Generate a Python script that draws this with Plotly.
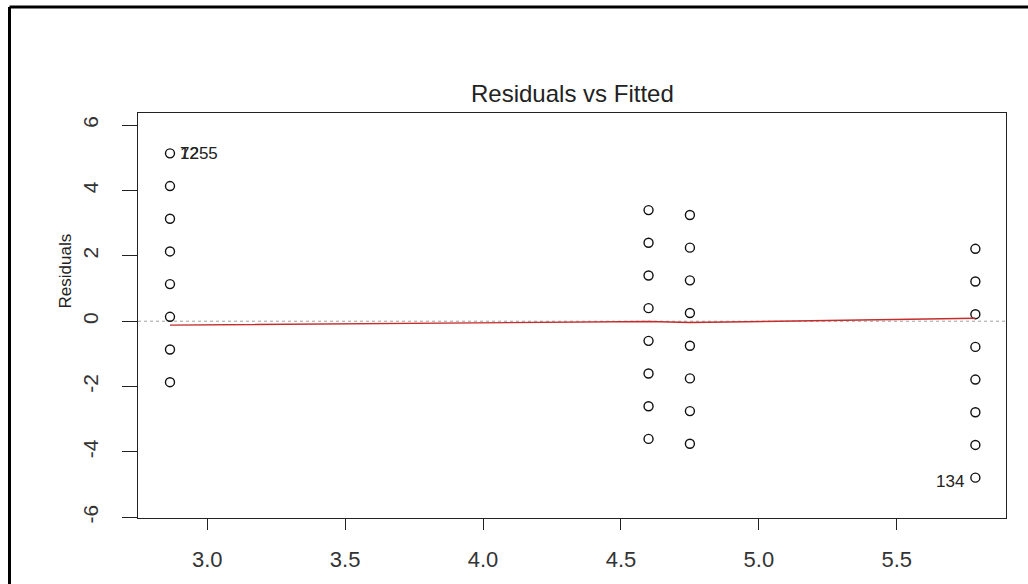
import plotly.graph_objects as go

# ---- data ----
fitted_groups = [2.865, 4.600, 4.750, 5.785]
responses = [8, 7, 6, 5, 4, 3, 2, 1]
residuals_g1 = [5.135, 4.135, 3.135, 2.135, 1.135, 0.135, -0.865, -1.865]
residuals_g2 = [3.40, 2.40, 1.40, 0.40, -0.60, -1.60, -2.60, -3.60]
residuals_g3 = [3.25, 2.25, 1.25, 0.25, -0.75, -1.75, -2.75, -3.75]
residuals_g4 = [2.215, 1.215, 0.215, -0.785, -1.785, -2.785, -3.785, -4.785]
smooth_x = [2.865, 4.600, 4.750, 5.785]
smooth_y = [-0.12, -0.01, -0.04, 0.09]
label_points = [(2.865, 5.135, "72"), (2.865, 5.135, "1255"), (5.785, -4.785, "134")]
x_ticks = [3.0, 3.5, 4.0, 4.5, 5.0, 5.5]
y_ticks = [-6, -4, -2, 0, 2, 4, 6]
title_text = "Residuals vs Fitted"
y_title = "Residuals"

FONT = "Liberation Sans, Arial, sans-serif"

xs, ys = [], []
for fx, grp in zip(fitted_groups, [residuals_g1, residuals_g2, residuals_g3, residuals_g4]):
    xs += [fx] * len(grp)
    ys += grp

fig = go.Figure()
fig.add_trace(go.Scatter(
    x=xs, y=ys, mode="markers",
    marker=dict(symbol="circle-open", size=9, color="#111111", line=dict(width=1.4, color="#111111")),
    showlegend=False, hoverinfo="x+y"))
fig.add_trace(go.Scatter(
    x=smooth_x, y=smooth_y, mode="lines",
    line=dict(color="#c62c2c", width=1.4), showlegend=False))

# zero reference line (dotted grey)
fig.add_shape(type="line", xref="paper", yref="y", x0=0, x1=1, y0=0, y1=0,
              line=dict(color="#a0a0a0", width=1, dash="dot"), layer="below")

# point labels
for px, py, t in label_points:
    if py > 0:
        fig.add_annotation(x=px, y=py, text=t, showarrow=False, xanchor="left",
                           xshift=8, yshift=0, font=dict(family=FONT, size=17, color="#222222"))
    else:
        fig.add_annotation(x=px, y=py, text=t, showarrow=False, xanchor="right",
                           xshift=-9, yshift=-4, font=dict(family=FONT, size=17, color="#222222"))

# title and y label
fig.add_annotation(xref="paper", yref="paper", x=0.5, y=1.049, text=title_text, showarrow=False,
                   font=dict(family=FONT, size=24, color="#222222"), xanchor="center", yanchor="middle")
fig.add_annotation(xref="paper", yref="paper", x=-0.084, y=0.609, text=y_title, showarrow=False,
                   textangle=-90, font=dict(family=FONT, size=17, color="#222222"),
                   xanchor="center", yanchor="middle")

# outer frame (top + left thick black border)
L, R, T, B = 138, 1006, 113, 520
pw, ph = R - L, B - T
def px2x(p):
    return (p - L) / pw
def px2y(p):
    return (B - p) / ph
fig.add_shape(type="line", xref="paper", yref="paper",
              x0=px2x(9.5), x1=px2x(1030), y0=px2y(6.5), y1=px2y(6.5),
              line=dict(color="black", width=3))
fig.add_shape(type="line", xref="paper", yref="paper",
              x0=px2x(9.5), x1=px2x(9.5), y0=px2y(6.5), y1=px2y(590),
              line=dict(color="black", width=3))

fig.update_layout(
    width=1028, height=584,
    margin=dict(l=L, r=1028 - R, t=T, b=584 - B, pad=0),
    paper_bgcolor="white", plot_bgcolor="white",
    font=dict(family=FONT, color="#222222"),
    showlegend=False,
)
fig.update_xaxes(
    range=[2.749, 5.896], tickvals=x_ticks, ticktext=[f"{v:.1f}" for v in x_ticks],
    showgrid=False, zeroline=False, showline=True, mirror=True, linecolor="#222222", linewidth=1.2,
    ticks="outside", ticklen=11, tickwidth=1.2, tickcolor="#222222",
    tickfont=dict(family=FONT, size=22, color="#333333"), ticklabelstandoff=10)
fig.update_yaxes(
    range=[-6.02, 6.37], tickvals=y_ticks, ticktext=[str(v) for v in y_ticks],
    showgrid=False, zeroline=False, showline=True, mirror=True, linecolor="#222222", linewidth=1.2,
    ticks="outside", ticklen=15, tickwidth=1.2, tickcolor="#222222", tickangle=-90,
    tickfont=dict(family=FONT, size=21, color="#333333"), ticklabelstandoff=16)

fig.write_html("out.html", config={"displayModeBar": False},
               post_script="document.body.style.margin='0';document.body.style.overflow='hidden';")
